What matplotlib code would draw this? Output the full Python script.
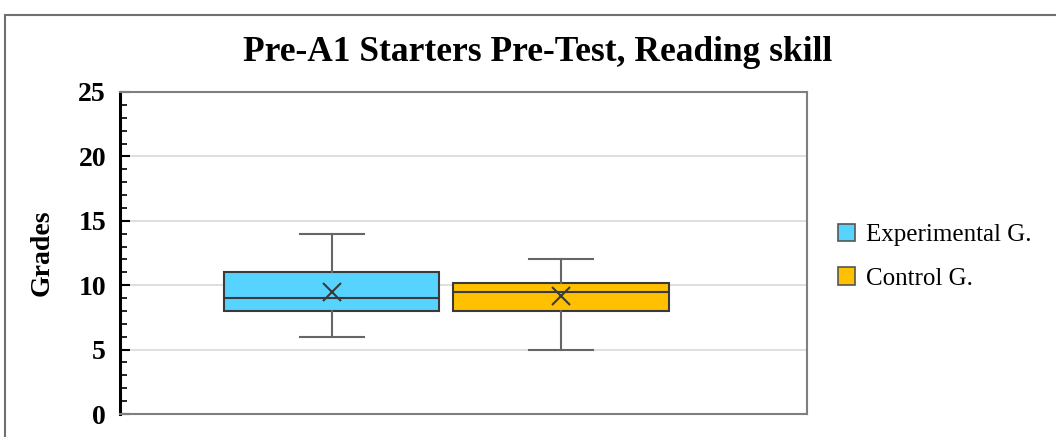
import matplotlib
matplotlib.use("Agg")
import matplotlib.pyplot as plt
from matplotlib.patches import Patch, Rectangle

plt.rcParams['font.family'] = ['Liberation Serif', 'DejaVu Serif']

groups = ["Experimental G.", "Control G."]
colors = ["#57D3FF", "#FFC000"]
whis_low = [6, 5]
q1 = [8, 8]
medians = [9, 9.5]
q3 = [11, 10.2]
whis_high = [14, 12]
means = [9.5, 9.2]

positions = [0.308, 0.642]
box_width = 0.314

fig = plt.figure(figsize=(10.56, 4.37), dpi=100)
ax = fig.add_axes([0.1136, 0.0526, 0.6506, 0.7369])

stats = []
for i, g in enumerate(groups):
    stats.append(dict(label=g, whislo=whis_low[i], q1=q1[i], med=medians[i],
                      q3=q3[i], whishi=whis_high[i], mean=means[i], fliers=[]))

bp = ax.bxp(stats, positions=positions, widths=box_width, patch_artist=True,
            showmeans=True, showfliers=False,
            boxprops=dict(edgecolor="#3a3a3a", linewidth=1.5),
            medianprops=dict(color="#3a3a3a", linewidth=1.5),
            whiskerprops=dict(color="#666666", linewidth=1.5),
            capprops=dict(color="#666666", linewidth=1.5),
            meanprops=dict(marker="x", markeredgecolor="#3a3a3a",
                           markersize=13, markeredgewidth=1.5),
            capwidths=0.093)
for patch, c in zip(bp["boxes"], colors):
    patch.set_facecolor(c)

ax.set_xlim(0, 1)
ax.set_ylim(0, 25)
ax.set_yticks([0, 5, 10, 15, 20, 25])
ax.set_yticks(range(0, 26), minor=True)
ax.set_xticks([])
ax.yaxis.grid(True, color="#d9d9d9", linewidth=1.2)
ax.set_axisbelow(True)
ax.tick_params(axis="y", which="major", direction="in", length=7, width=1.5,
               labelsize=20, pad=10)
ax.tick_params(axis="y", which="minor", direction="in", length=5, width=1.2)
for lab in ax.get_yticklabels():
    lab.set_fontweight("bold")

for s in ["top", "right", "bottom"]:
    ax.spines[s].set_color("#7f7f7f")
    ax.spines[s].set_linewidth(1.5)
ax.spines["left"].set_color("black")
ax.spines["left"].set_linewidth(2.2)

ax.set_ylabel("Grades", fontsize=20, fontweight="bold", labelpad=17)
fig.text(0.509, 0.881, "Pre-A1 Starters Pre-Test, Reading skill",
         ha="center", va="center", fontsize=25.5, fontweight="bold")

handles = [Patch(facecolor=c, edgecolor="#555555", linewidth=1.2) for c in colors]
fig.legend(handles, groups, loc="upper left", bbox_to_anchor=(0.772, 0.54),
           frameon=False, fontsize=18, handlelength=0.7, handleheight=0.7,
           handletextpad=0.45, labelspacing=0.85)

# outer chart frame (cropped at right and bottom)
fig.patches.append(Rectangle((5 / 1056, -0.1), 1.1, 1.1 - 15 / 437,
                             transform=fig.transFigure, fill=False,
                             edgecolor="#707070", linewidth=1.5))

fig.savefig("out.png", dpi=100)
